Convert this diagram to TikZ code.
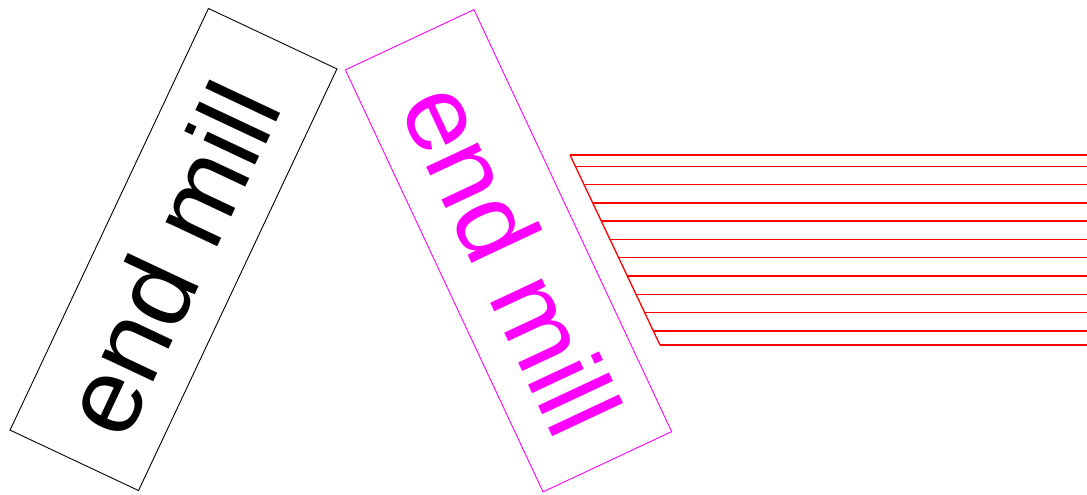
\documentclass[tikz,border=0pt]{standalone}
\usepackage{fontspec}
\setmainfont{Liberation Sans}
\definecolor{mag}{RGB}{255,0,255}
\definecolor{redline}{RGB}{255,0,0}
\begin{document}
\begin{tikzpicture}[x=1pt,y=-1pt,
  millbox/.style={draw, line width=0.9pt, minimum width=466pt, minimum height=142pt, inner sep=0pt},
  milltext/.style={inner sep=0pt, font=\fontsize{108}{108}\selectfont},
  hatch/.style={draw=redline, line width=1.3pt}]
\useasboundingbox (0,0) rectangle (1087,495);
\node[millbox, rotate=64.8] (m1) at (173.5,249.5) {};
\node[milltext, rotate=64.8] (t1) at (169.5,258.5) {end mill};
\node[millbox, draw=mag, rotate=-64.9] (m2) at (508.5,250.75) {};
\node[milltext, text=mag, rotate=-64.9] (t2) at (512,258.5) {end mill};
\coordinate (s1) at (570,155);
\coordinate (s2) at (660,345);
\draw[hatch] (s1) -- (s2);
\foreach \yy in {155,166.3,184.7,203,221,239.3,257.7,276,294.3,312.7,331,345} {
  \draw[hatch] ({570+(\yy-155)*0.473684},\yy) -- (1090,\yy);
}
\end{tikzpicture}
\end{document}
